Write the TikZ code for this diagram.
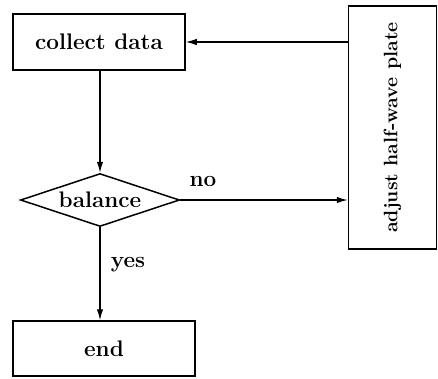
\documentclass[tikz,border=0pt]{standalone}
\usepackage{fontspec}
\usetikzlibrary{shapes.geometric,arrows.meta}
\begin{document}
\begin{tikzpicture}[x=1pt,y=-1pt,
  box/.style={draw,line width=1.5pt,inner sep=0pt,font=\fontsize{22.5}{26}\selectfont\bfseries},
  dec/.style={draw,diamond,aspect=3,line width=1.5pt,inner sep=0pt,minimum width=159pt,minimum height=53pt,font=\fontsize{22.5}{26}\selectfont\bfseries},
  lbl/.style={font=\fontsize{22.5}{26}\selectfont\bfseries,inner sep=0pt},
  arr/.style={line width=1.4pt,-{Latex[length=11pt,width=6.5pt]}}]
\useasboundingbox (0,0) rectangle (438,378);
\node[box,minimum width=172pt,minimum height=56pt] (collect) at (99,42) {collect data};
\node[box,minimum width=88pt,minimum height=243pt] (adjust) at (392.5,127.5)
  {\rotatebox{90}{\fontsize{19.5}{22}\selectfont\bfseries adjust half-wave plate}};
\node[dec] (dia) at (100,200) {balance};
\node[box,minimum width=182pt,minimum height=55pt] (end) at (104,348.5) {end};
\node[lbl] (no) at (203,181) {no};
\node[lbl] (yes) at (128,265) {yes};
\draw[arr] (collect.south -| dia.north) -- (dia.north);
\draw[arr] (dia.south) -- (dia.south |- end.north);
\draw[arr] (dia.east) -- (dia.east -| adjust.west);
\draw[arr] (adjust.west |- collect.east) -- (collect.east);
\end{tikzpicture}
\end{document}
